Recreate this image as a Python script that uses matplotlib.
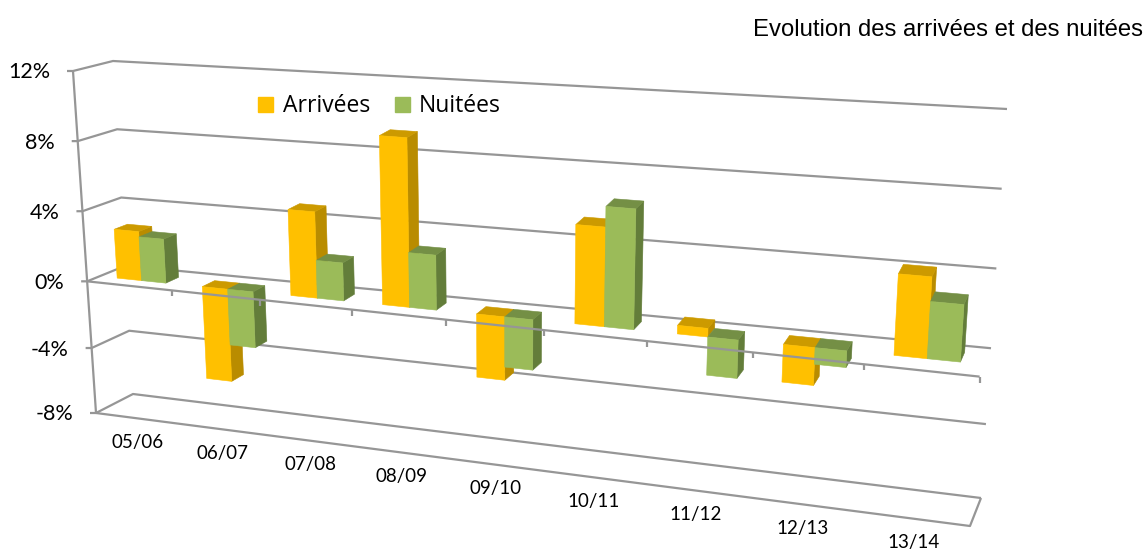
import numpy as np
import matplotlib
matplotlib.use("Agg")
import matplotlib.pyplot as plt
from matplotlib.patches import Patch

categories = ["05/06", "06/07", "07/08", "08/09", "09/10", "10/11", "11/12", "12/13", "13/14"]
arrivees = [2.8, -5.5, 4.8, 9.3, -3.6, 5.3, 0.45, -2.05, 4.15]
nuitees = [2.5, -3.3, 2.1, 3.0, -2.85, 6.4, -2.1, -0.9, 2.9]
y_ticks = [-8, -4, 0, 4, 8, 12]

# box corners in pixels, (front, back) then (left, right) then (bottom, top)
corners = np.array([
    [[[96, 413], [73, 71]], [[970, 526], [995, 138]]],
    [[[133, 394], [113, 61]], [[981, 498], [1007, 109]]],
], dtype=float)

# perspective: spacing of categories and of value ticks is not even
u_scale = np.array([0, .095, .194, .297, .402, .512, .627, .746, .870, 1])
v_scale = np.array([0, .19, .385, .59, .795, 1])


def project(cat, val, depth):
    u = np.interp(cat, np.arange(10), u_scale)
    v = np.interp(val, y_ticks, v_scale)
    front = (corners[0, 0, 0] * (1 - u) + corners[0, 1, 0] * u) * (1 - v) + (corners[0, 0, 1] * (1 - u) + corners[0, 1, 1] * u) * v
    back = (corners[1, 0, 0] * (1 - u) + corners[1, 1, 0] * u) * (1 - v) + (corners[1, 0, 1] * (1 - u) + corners[1, 1, 1] * u) * v
    return front * (1 - depth) + back * depth


GREY = "#969696"
fig = plt.figure(figsize=(11.46, 5.49), dpi=100)
ax = fig.add_axes([0, 0, 1, 1])
ax.set_xlim(0, 1146)
ax.set_ylim(549, 0)
ax.axis("off")


def line(points, z=1, lw=1.6):
    pts = np.array(points)
    ax.plot(pts[:, 0], pts[:, 1], color=GREY, lw=lw, zorder=z, solid_capstyle="butt")


# walls and floor
for val in y_ticks:
    line([project(0, val, 0) + [-6, 0], project(0, val, 0), project(0, val, 1), project(9, val, 1)])
line([project(0, -8, 0), project(0, 12, 0)])
line([project(0, -8, 0), project(9, -8, 0), project(9, -8, 1)])
# the zero line runs in front of the bars that hang below it
line([project(0, 0, 0), project(9, 0, 0)], z=50)
for i in range(1, 10):
    p = project(i, 0, 0)
    line([p, p + [0, 6]], z=50)

for val in y_ticks:
    p = project(0, val, 0)
    ax.text(p[0] - 23, p[1] + 1.5, f"{val}%", ha="right", va="center",
            family="Lato", fontsize=15.5, color="black")
for i, c in enumerate(categories):
    p = project(i + .5, -8, 0)
    ax.text(p[0], p[1] + 24, c, ha="center", va="center", family="Lato", fontsize=13.5, color="black")

# bars
BAR_W = 0.29
BAR_START = 0.21
series = [(arrivees, 0, "#FFC000", "#CC9A00", "#B98C00"), (nuitees, 1, "#9BBB59", "#748F45", "#637D3A")]


def face(points, color, z):
    pts = np.array(points)
    ax.fill(pts[:, 0], pts[:, 1], color=color, lw=0.4, zorder=z)


z = 10
for i in range(len(categories)):
    D0 = 0.325 + 0.1 * i / 8
    D1 = D0 + 0.35
    for vals, k, c_front, c_top, c_side in series:
        v = vals[i]
        x0 = i + BAR_START + k * BAR_W
        x1 = x0 + BAR_W
        lo, hi = min(v, 0), max(v, 0)
        face([project(x1, lo, D0), project(x1, hi, D0), project(x1, hi, D1), project(x1, lo, D1)], c_side, z)
        face([project(x0, hi, D0), project(x1, hi, D0), project(x1, hi, D1), project(x0, hi, D1)], c_top, z + 0.1)
        face([project(x0, lo, D0), project(x1, lo, D0), project(x1, hi, D0), project(x0, hi, D0)], c_front, z + 0.2)
        z += 1

ax.text(1143, 30, "Evolution des arrivées et des nuitées", ha="right", va="center",
        family="Liberation Sans", fontsize=13.9 * 390 / 315, color="black")

handles = [Patch(color="#FFC000", label="Arrivées"), Patch(color="#9BBB59", label="Nuitées")]
ax.legend(handles=handles, ncol=2, frameon=False, loc="center left", bbox_to_anchor=(247, 106.5),
          bbox_transform=ax.transData, prop={"family": "Open Sans", "size": 16.5},
          handlelength=0.65, handleheight=0.65, handletextpad=0.4, columnspacing=1.1, borderpad=0)

fig.savefig("out.png", dpi=100)
